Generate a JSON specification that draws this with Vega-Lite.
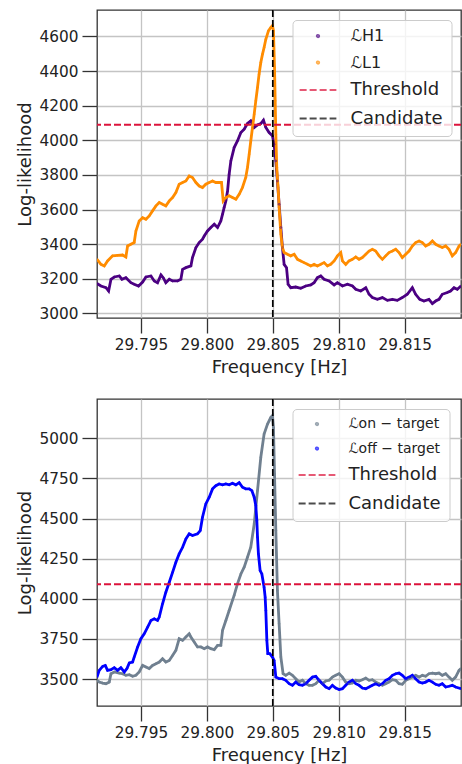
{
  "$schema": "https://vega.github.io/schema/vega-lite/v6.json",
  "padding": {"left": 15, "top": 8, "right": 0, "bottom": 0},
  "background": "white",
  "spacing": 81,
  "bounds": "flush",
  "config": {
    "view": {"stroke": "#333333", "strokeWidth": 1.3},
    "axis": {"labelFont": "DejaVu Sans", "labelFontSize": 15.3, "labelColor": "#222222", "titleFont": "DejaVu Sans", "titleFontSize": 18, "titleFontWeight": "normal", "titleColor": "#222222", "tickSize": 15, "tickColor": "#333333", "tickWidth": 1.3, "domain": false, "gridColor": "#c4c4c4", "gridWidth": 1.3, "labelPadding": 4, "labelFlush": false, "labelOverlap": false},
    "legend": {"orient": "none", "legendX": 195.5, "legendY": 10, "labelFont": "DejaVu Sans", "labelFontSize": 18, "labelColor": "#222222", "symbolSize": 6, "symbolStrokeWidth": 1.8, "symbolOffset": 9.5, "labelOffset": 24.5, "rowPadding": 10.5, "padding": 8, "fillColor": "rgba(255,255,255,0.8)", "strokeColor": "#cccccc", "cornerRadius": 4}
  },
  "datasets": {
    "top": [
      {"f":29.79167,"s":"ℒH1","v":3172},{"f":29.79197,"s":"ℒH1","v":3158},{"f":29.79235,"s":"ℒH1","v":3148},{"f":29.79255,"s":"ℒH1","v":3129},{"f":29.79273,"s":"ℒH1","v":3197},{"f":29.79298,"s":"ℒH1","v":3210},{"f":29.79336,"s":"ℒH1","v":3216},{"f":29.79356,"s":"ℒH1","v":3197},{"f":29.79386,"s":"ℒH1","v":3206},{"f":29.79424,"s":"ℒH1","v":3177},{"f":29.79449,"s":"ℒH1","v":3168},{"f":29.79482,"s":"ℒH1","v":3158},{"f":29.79513,"s":"ℒH1","v":3181},{"f":29.79538,"s":"ℒH1","v":3210},{"f":29.79576,"s":"ℒH1","v":3216},{"f":29.79601,"s":"ℒH1","v":3187},{"f":29.79626,"s":"ℒH1","v":3177},{"f":29.79652,"s":"ℒH1","v":3222},{"f":29.79669,"s":"ℒH1","v":3206},{"f":29.79689,"s":"ℒH1","v":3177},{"f":29.79715,"s":"ℒH1","v":3197},{"f":29.7974,"s":"ℒH1","v":3187},{"f":29.79778,"s":"ℒH1","v":3187},{"f":29.79803,"s":"ℒH1","v":3197},{"f":29.79816,"s":"ℒH1","v":3254},{"f":29.79841,"s":"ℒH1","v":3264},{"f":29.79879,"s":"ℒH1","v":3274},{"f":29.79891,"s":"ℒH1","v":3322},{"f":29.79917,"s":"ℒH1","v":3380},{"f":29.79942,"s":"ℒH1","v":3409},{"f":29.79967,"s":"ℒH1","v":3428},{"f":29.7998,"s":"ℒH1","v":3447},{"f":29.80005,"s":"ℒH1","v":3476},{"f":29.8003,"s":"ℒH1","v":3496},{"f":29.80056,"s":"ℒH1","v":3515},{"f":29.80081,"s":"ℒH1","v":3496},{"f":29.80106,"s":"ℒH1","v":3534},{"f":29.80119,"s":"ℒH1","v":3573},{"f":29.80131,"s":"ℒH1","v":3611},{"f":29.80144,"s":"ℒH1","v":3650},{"f":29.80157,"s":"ℒH1","v":3707},{"f":29.80169,"s":"ℒH1","v":3804},{"f":29.80182,"s":"ℒH1","v":3881},{"f":29.80207,"s":"ℒH1","v":3958},{"f":29.80232,"s":"ℒH1","v":3996},{"f":29.80258,"s":"ℒH1","v":4045},{"f":29.80283,"s":"ℒH1","v":4064},{"f":29.80308,"s":"ℒH1","v":4097},{"f":29.80333,"s":"ℒH1","v":4112},{"f":29.80359,"s":"ℒH1","v":4074},{"f":29.80384,"s":"ℒH1","v":4089},{"f":29.80409,"s":"ℒH1","v":4097},{"f":29.80429,"s":"ℒH1","v":4116},{"f":29.80447,"s":"ℒH1","v":4074},{"f":29.80472,"s":"ℒH1","v":4045},{"f":29.80497,"s":"ℒH1","v":4026},{"f":29.8051,"s":"ℒH1","v":3977},{"f":29.80523,"s":"ℒH1","v":3881},{"f":29.80535,"s":"ℒH1","v":3765},{"f":29.80548,"s":"ℒH1","v":3630},{"f":29.80561,"s":"ℒH1","v":3496},{"f":29.80573,"s":"ℒH1","v":3380},{"f":29.80586,"s":"ℒH1","v":3283},{"f":29.80604,"s":"ℒH1","v":3264},{"f":29.80616,"s":"ℒH1","v":3168},{"f":29.80636,"s":"ℒH1","v":3148},{"f":29.80674,"s":"ℒH1","v":3152},{"f":29.80712,"s":"ℒH1","v":3145},{"f":29.8075,"s":"ℒH1","v":3158},{"f":29.80788,"s":"ℒH1","v":3164},{"f":29.80813,"s":"ℒH1","v":3177},{"f":29.80838,"s":"ℒH1","v":3206},{"f":29.80864,"s":"ℒH1","v":3216},{"f":29.80889,"s":"ℒH1","v":3197},{"f":29.80927,"s":"ℒH1","v":3187},{"f":29.80965,"s":"ℒH1","v":3164},{"f":29.8099,"s":"ℒH1","v":3177},{"f":29.81028,"s":"ℒH1","v":3158},{"f":29.81066,"s":"ℒH1","v":3168},{"f":29.81104,"s":"ℒH1","v":3158},{"f":29.81129,"s":"ℒH1","v":3139},{"f":29.81167,"s":"ℒH1","v":3129},{"f":29.81205,"s":"ℒH1","v":3148},{"f":29.8123,"s":"ℒH1","v":3110},{"f":29.81255,"s":"ℒH1","v":3091},{"f":29.81293,"s":"ℒH1","v":3081},{"f":29.81331,"s":"ℒH1","v":3091},{"f":29.81369,"s":"ℒH1","v":3075},{"f":29.81407,"s":"ℒH1","v":3081},{"f":29.81444,"s":"ℒH1","v":3075},{"f":29.81482,"s":"ℒH1","v":3091},{"f":29.8152,"s":"ℒH1","v":3110},{"f":29.81558,"s":"ℒH1","v":3148},{"f":29.81583,"s":"ℒH1","v":3110},{"f":29.81614,"s":"ℒH1","v":3081},{"f":29.81646,"s":"ℒH1","v":3071},{"f":29.81684,"s":"ℒH1","v":3081},{"f":29.8171,"s":"ℒH1","v":3056},{"f":29.81735,"s":"ℒH1","v":3071},{"f":29.8176,"s":"ℒH1","v":3081},{"f":29.81785,"s":"ℒH1","v":3110},{"f":29.81823,"s":"ℒH1","v":3120},{"f":29.81848,"s":"ℒH1","v":3129},{"f":29.81874,"s":"ℒH1","v":3148},{"f":29.81899,"s":"ℒH1","v":3139},{"f":29.81927,"s":"ℒH1","v":3158},
      {"f":29.79167,"s":"ℒL1","v":3312},{"f":29.79197,"s":"ℒL1","v":3283},{"f":29.79222,"s":"ℒL1","v":3274},{"f":29.79247,"s":"ℒL1","v":3303},{"f":29.79285,"s":"ℒL1","v":3332},{"f":29.79323,"s":"ℒL1","v":3335},{"f":29.79361,"s":"ℒL1","v":3337},{"f":29.79386,"s":"ℒL1","v":3326},{"f":29.79399,"s":"ℒL1","v":3389},{"f":29.79424,"s":"ℒL1","v":3399},{"f":29.79449,"s":"ℒL1","v":3409},{"f":29.79462,"s":"ℒL1","v":3476},{"f":29.79487,"s":"ℒL1","v":3534},{"f":29.79513,"s":"ℒL1","v":3553},{"f":29.79538,"s":"ℒL1","v":3544},{"f":29.79563,"s":"ℒL1","v":3563},{"f":29.79588,"s":"ℒL1","v":3592},{"f":29.79614,"s":"ℒL1","v":3621},{"f":29.79639,"s":"ℒL1","v":3640},{"f":29.79664,"s":"ℒL1","v":3630},{"f":29.79689,"s":"ℒL1","v":3621},{"f":29.79715,"s":"ℒL1","v":3650},{"f":29.7974,"s":"ℒL1","v":3669},{"f":29.79765,"s":"ℒL1","v":3698},{"f":29.7979,"s":"ℒL1","v":3746},{"f":29.79816,"s":"ℒL1","v":3756},{"f":29.79841,"s":"ℒL1","v":3765},{"f":29.79866,"s":"ℒL1","v":3794},{"f":29.79891,"s":"ℒL1","v":3785},{"f":29.79917,"s":"ℒL1","v":3756},{"f":29.79942,"s":"ℒL1","v":3736},{"f":29.79967,"s":"ℒL1","v":3727},{"f":29.79992,"s":"ℒL1","v":3746},{"f":29.80018,"s":"ℒL1","v":3756},{"f":29.80043,"s":"ℒL1","v":3765},{"f":29.80068,"s":"ℒL1","v":3756},{"f":29.80093,"s":"ℒL1","v":3756},{"f":29.80111,"s":"ℒL1","v":3756},{"f":29.80124,"s":"ℒL1","v":3650},{"f":29.80144,"s":"ℒL1","v":3669},{"f":29.80169,"s":"ℒL1","v":3679},{"f":29.80194,"s":"ℒL1","v":3669},{"f":29.8022,"s":"ℒL1","v":3659},{"f":29.80245,"s":"ℒL1","v":3688},{"f":29.8027,"s":"ℒL1","v":3727},{"f":29.80295,"s":"ℒL1","v":3785},{"f":29.80308,"s":"ℒL1","v":3843},{"f":29.80321,"s":"ℒL1","v":3920},{"f":29.80333,"s":"ℒL1","v":3996},{"f":29.80346,"s":"ℒL1","v":4074},{"f":29.80359,"s":"ℒL1","v":4151},{"f":29.80371,"s":"ℒL1","v":4228},{"f":29.80384,"s":"ℒL1","v":4305},{"f":29.80396,"s":"ℒL1","v":4382},{"f":29.80409,"s":"ℒL1","v":4450},{"f":29.80422,"s":"ℒL1","v":4498},{"f":29.80434,"s":"ℒL1","v":4536},{"f":29.80447,"s":"ℒL1","v":4584},{"f":29.80467,"s":"ℒL1","v":4633},{"f":29.80485,"s":"ℒL1","v":4652},{"f":29.80497,"s":"ℒL1","v":4662},{"f":29.80505,"s":"ℒL1","v":4633},{"f":29.80513,"s":"ℒL1","v":4421},{"f":29.80518,"s":"ℒL1","v":4228},{"f":29.80523,"s":"ℒL1","v":4035},{"f":29.8053,"s":"ℒL1","v":3843},{"f":29.8054,"s":"ℒL1","v":3727},{"f":29.80548,"s":"ℒL1","v":3611},{"f":29.80561,"s":"ℒL1","v":3457},{"f":29.80573,"s":"ℒL1","v":3380},{"f":29.80586,"s":"ℒL1","v":3351},{"f":29.80611,"s":"ℒL1","v":3341},{"f":29.80636,"s":"ℒL1","v":3332},{"f":29.80662,"s":"ℒL1","v":3341},{"f":29.80687,"s":"ℒL1","v":3312},{"f":29.80712,"s":"ℒL1","v":3303},{"f":29.80737,"s":"ℒL1","v":3293},{"f":29.80763,"s":"ℒL1","v":3283},{"f":29.80788,"s":"ℒL1","v":3274},{"f":29.80813,"s":"ℒL1","v":3283},{"f":29.80838,"s":"ℒL1","v":3274},{"f":29.80864,"s":"ℒL1","v":3283},{"f":29.80889,"s":"ℒL1","v":3293},{"f":29.80914,"s":"ℒL1","v":3274},{"f":29.80939,"s":"ℒL1","v":3283},{"f":29.80965,"s":"ℒL1","v":3303},{"f":29.8099,"s":"ℒL1","v":3332},{"f":29.81015,"s":"ℒL1","v":3351},{"f":29.81028,"s":"ℒL1","v":3303},{"f":29.81053,"s":"ℒL1","v":3283},{"f":29.81078,"s":"ℒL1","v":3303},{"f":29.81104,"s":"ℒL1","v":3312},{"f":29.81129,"s":"ℒL1","v":3326},{"f":29.81154,"s":"ℒL1","v":3312},{"f":29.81179,"s":"ℒL1","v":3322},{"f":29.81205,"s":"ℒL1","v":3341},{"f":29.8123,"s":"ℒL1","v":3360},{"f":29.81255,"s":"ℒL1","v":3370},{"f":29.8128,"s":"ℒL1","v":3360},{"f":29.81306,"s":"ℒL1","v":3332},{"f":29.81331,"s":"ℒL1","v":3312},{"f":29.81356,"s":"ℒL1","v":3332},{"f":29.81381,"s":"ℒL1","v":3351},{"f":29.81407,"s":"ℒL1","v":3360},{"f":29.81432,"s":"ℒL1","v":3370},{"f":29.81457,"s":"ℒL1","v":3351},{"f":29.81482,"s":"ℒL1","v":3322},{"f":29.81508,"s":"ℒL1","v":3341},{"f":29.81533,"s":"ℒL1","v":3360},{"f":29.81558,"s":"ℒL1","v":3389},{"f":29.81583,"s":"ℒL1","v":3409},{"f":29.81609,"s":"ℒL1","v":3418},{"f":29.81634,"s":"ℒL1","v":3409},{"f":29.81659,"s":"ℒL1","v":3389},{"f":29.81684,"s":"ℒL1","v":3399},{"f":29.8171,"s":"ℒL1","v":3418},{"f":29.81735,"s":"ℒL1","v":3399},{"f":29.8176,"s":"ℒL1","v":3389},{"f":29.81785,"s":"ℒL1","v":3380},{"f":29.81811,"s":"ℒL1","v":3389},{"f":29.81836,"s":"ℒL1","v":3370},{"f":29.81861,"s":"ℒL1","v":3332},{"f":29.81886,"s":"ℒL1","v":3351},{"f":29.81912,"s":"ℒL1","v":3389},{"f":29.81927,"s":"ℒL1","v":3399}
    ],
    "bottom": [
      {"f":29.79167,"s":"ℒon − target","v":3492},{"f":29.79184,"s":"ℒon − target","v":3481},{"f":29.7921,"s":"ℒon − target","v":3475},{"f":29.79235,"s":"ℒon − target","v":3471},{"f":29.7926,"s":"ℒon − target","v":3481},{"f":29.79273,"s":"ℒon − target","v":3533},{"f":29.79298,"s":"ℒon − target","v":3544},{"f":29.79336,"s":"ℒon − target","v":3537},{"f":29.79361,"s":"ℒon − target","v":3533},{"f":29.79386,"s":"ℒon − target","v":3523},{"f":29.79412,"s":"ℒon − target","v":3527},{"f":29.79437,"s":"ℒon − target","v":3517},{"f":29.79462,"s":"ℒon − target","v":3523},{"f":29.79487,"s":"ℒon − target","v":3544},{"f":29.79513,"s":"ℒon − target","v":3585},{"f":29.79538,"s":"ℒon − target","v":3575},{"f":29.79563,"s":"ℒon − target","v":3565},{"f":29.79588,"s":"ℒon − target","v":3585},{"f":29.79614,"s":"ℒon − target","v":3596},{"f":29.79639,"s":"ℒon − target","v":3606},{"f":29.79664,"s":"ℒon − target","v":3627},{"f":29.79689,"s":"ℒon − target","v":3606},{"f":29.79715,"s":"ℒon − target","v":3616},{"f":29.7974,"s":"ℒon − target","v":3647},{"f":29.79765,"s":"ℒon − target","v":3679},{"f":29.7979,"s":"ℒon − target","v":3751},{"f":29.79816,"s":"ℒon − target","v":3741},{"f":29.79841,"s":"ℒon − target","v":3762},{"f":29.79866,"s":"ℒon − target","v":3782},{"f":29.79879,"s":"ℒon − target","v":3762},{"f":29.79904,"s":"ℒon − target","v":3731},{"f":29.79929,"s":"ℒon − target","v":3700},{"f":29.79955,"s":"ℒon − target","v":3700},{"f":29.7998,"s":"ℒon − target","v":3689},{"f":29.80005,"s":"ℒon − target","v":3700},{"f":29.8003,"s":"ℒon − target","v":3689},{"f":29.80056,"s":"ℒon − target","v":3683},{"f":29.80081,"s":"ℒon − target","v":3710},{"f":29.80106,"s":"ℒon − target","v":3710},{"f":29.80119,"s":"ℒon − target","v":3803},{"f":29.80144,"s":"ℒon − target","v":3865},{"f":29.80169,"s":"ℒon − target","v":3927},{"f":29.80194,"s":"ℒon − target","v":3990},{"f":29.80207,"s":"ℒon − target","v":4021},{"f":29.80232,"s":"ℒon − target","v":4093},{"f":29.80258,"s":"ℒon − target","v":4155},{"f":29.80283,"s":"ℒon − target","v":4197},{"f":29.80308,"s":"ℒon − target","v":4259},{"f":29.80333,"s":"ℒon − target","v":4321},{"f":29.80359,"s":"ℒon − target","v":4466},{"f":29.80384,"s":"ℒon − target","v":4674},{"f":29.80409,"s":"ℒon − target","v":4882},{"f":29.80434,"s":"ℒon − target","v":5027},{"f":29.8046,"s":"ℒon − target","v":5089},{"f":29.80485,"s":"ℒon − target","v":5131},{"f":29.80497,"s":"ℒon − target","v":5141},{"f":29.80505,"s":"ℒon − target","v":5068},{"f":29.80513,"s":"ℒon − target","v":4778},{"f":29.80523,"s":"ℒon − target","v":4425},{"f":29.80535,"s":"ℒon − target","v":4052},{"f":29.80548,"s":"ℒon − target","v":3844},{"f":29.80561,"s":"ℒon − target","v":3637},{"f":29.80578,"s":"ℒon − target","v":3533},{"f":29.80598,"s":"ℒon − target","v":3523},{"f":29.80624,"s":"ℒon − target","v":3537},{"f":29.80649,"s":"ℒon − target","v":3523},{"f":29.80674,"s":"ℒon − target","v":3502},{"f":29.80699,"s":"ℒon − target","v":3481},{"f":29.80725,"s":"ℒon − target","v":3492},{"f":29.8075,"s":"ℒon − target","v":3471},{"f":29.80775,"s":"ℒon − target","v":3461},{"f":29.80801,"s":"ℒon − target","v":3461},{"f":29.80826,"s":"ℒon − target","v":3471},{"f":29.80851,"s":"ℒon − target","v":3492},{"f":29.80876,"s":"ℒon − target","v":3471},{"f":29.80902,"s":"ℒon − target","v":3488},{"f":29.80927,"s":"ℒon − target","v":3492},{"f":29.80952,"s":"ℒon − target","v":3512},{"f":29.80977,"s":"ℒon − target","v":3523},{"f":29.81003,"s":"ℒon − target","v":3533},{"f":29.81028,"s":"ℒon − target","v":3512},{"f":29.81053,"s":"ℒon − target","v":3481},{"f":29.81078,"s":"ℒon − target","v":3471},{"f":29.81104,"s":"ℒon − target","v":3475},{"f":29.81129,"s":"ℒon − target","v":3492},{"f":29.81154,"s":"ℒon − target","v":3488},{"f":29.81179,"s":"ℒon − target","v":3496},{"f":29.81205,"s":"ℒon − target","v":3506},{"f":29.8123,"s":"ℒon − target","v":3492},{"f":29.81255,"s":"ℒon − target","v":3496},{"f":29.8128,"s":"ℒon − target","v":3481},{"f":29.81306,"s":"ℒon − target","v":3471},{"f":29.81331,"s":"ℒon − target","v":3461},{"f":29.81356,"s":"ℒon − target","v":3471},{"f":29.81381,"s":"ℒon − target","v":3481},{"f":29.81407,"s":"ℒon − target","v":3496},{"f":29.81432,"s":"ℒon − target","v":3492},{"f":29.81457,"s":"ℒon − target","v":3471},{"f":29.81482,"s":"ℒon − target","v":3467},{"f":29.81508,"s":"ℒon − target","v":3492},{"f":29.81533,"s":"ℒon − target","v":3502},{"f":29.81558,"s":"ℒon − target","v":3512},{"f":29.81583,"s":"ℒon − target","v":3523},{"f":29.81609,"s":"ℒon − target","v":3512},{"f":29.81634,"s":"ℒon − target","v":3523},{"f":29.81659,"s":"ℒon − target","v":3517},{"f":29.81684,"s":"ℒon − target","v":3533},{"f":29.8171,"s":"ℒon − target","v":3537},{"f":29.81735,"s":"ℒon − target","v":3533},{"f":29.8176,"s":"ℒon − target","v":3537},{"f":29.81785,"s":"ℒon − target","v":3523},{"f":29.81811,"s":"ℒon − target","v":3533},{"f":29.81836,"s":"ℒon − target","v":3512},{"f":29.81861,"s":"ℒon − target","v":3492},{"f":29.81886,"s":"ℒon − target","v":3512},{"f":29.81912,"s":"ℒon − target","v":3554},{"f":29.81927,"s":"ℒon − target","v":3565},
      {"f":29.79167,"s":"ℒoff − target","v":3512},{"f":29.79184,"s":"ℒoff − target","v":3554},{"f":29.7921,"s":"ℒoff − target","v":3579},{"f":29.7923,"s":"ℒoff − target","v":3585},{"f":29.79247,"s":"ℒoff − target","v":3554},{"f":29.79273,"s":"ℒoff − target","v":3558},{"f":29.79298,"s":"ℒoff − target","v":3571},{"f":29.79323,"s":"ℒoff − target","v":3554},{"f":29.79348,"s":"ℒoff − target","v":3571},{"f":29.79374,"s":"ℒoff − target","v":3544},{"f":29.79394,"s":"ℒoff − target","v":3565},{"f":29.79412,"s":"ℒoff − target","v":3600},{"f":29.79437,"s":"ℒoff − target","v":3606},{"f":29.79449,"s":"ℒoff − target","v":3637},{"f":29.79475,"s":"ℒoff − target","v":3700},{"f":29.795,"s":"ℒoff − target","v":3751},{"f":29.79525,"s":"ℒoff − target","v":3782},{"f":29.79551,"s":"ℒoff − target","v":3824},{"f":29.79576,"s":"ℒoff − target","v":3865},{"f":29.79601,"s":"ℒoff − target","v":3875},{"f":29.79626,"s":"ℒoff − target","v":3865},{"f":29.79639,"s":"ℒoff − target","v":3886},{"f":29.79664,"s":"ℒoff − target","v":3969},{"f":29.79689,"s":"ℒoff − target","v":4041},{"f":29.79715,"s":"ℒoff − target","v":4103},{"f":29.7974,"s":"ℒoff − target","v":4165},{"f":29.79765,"s":"ℒoff − target","v":4228},{"f":29.7979,"s":"ℒoff − target","v":4280},{"f":29.79816,"s":"ℒoff − target","v":4321},{"f":29.79841,"s":"ℒoff − target","v":4373},{"f":29.79866,"s":"ℒoff − target","v":4405},{"f":29.79891,"s":"ℒoff − target","v":4394},{"f":29.79929,"s":"ℒoff − target","v":4405},{"f":29.7995,"s":"ℒoff − target","v":4425},{"f":29.79967,"s":"ℒoff − target","v":4508},{"f":29.79992,"s":"ℒoff − target","v":4591},{"f":29.80018,"s":"ℒoff − target","v":4633},{"f":29.80043,"s":"ℒoff − target","v":4685},{"f":29.80068,"s":"ℒoff − target","v":4705},{"f":29.80093,"s":"ℒoff − target","v":4716},{"f":29.80119,"s":"ℒoff − target","v":4710},{"f":29.80144,"s":"ℒoff − target","v":4716},{"f":29.80169,"s":"ℒoff − target","v":4710},{"f":29.80194,"s":"ℒoff − target","v":4720},{"f":29.8022,"s":"ℒoff − target","v":4710},{"f":29.80245,"s":"ℒoff − target","v":4724},{"f":29.8027,"s":"ℒoff − target","v":4695},{"f":29.80295,"s":"ℒoff − target","v":4685},{"f":29.80321,"s":"ℒoff − target","v":4685},{"f":29.80341,"s":"ℒoff − target","v":4674},{"f":29.80359,"s":"ℒoff − target","v":4633},{"f":29.80371,"s":"ℒoff − target","v":4581},{"f":29.80379,"s":"ℒoff − target","v":4488},{"f":29.80384,"s":"ℒoff − target","v":4384},{"f":29.80391,"s":"ℒoff − target","v":4280},{"f":29.80404,"s":"ℒoff − target","v":4176},{"f":29.80417,"s":"ℒoff − target","v":4155},{"f":29.80434,"s":"ℒoff − target","v":4072},{"f":29.80442,"s":"ℒoff − target","v":4010},{"f":29.80447,"s":"ℒoff − target","v":3927},{"f":29.80455,"s":"ℒoff − target","v":3740},{"f":29.80462,"s":"ℒoff − target","v":3658},{"f":29.80477,"s":"ℒoff − target","v":3658},{"f":29.80497,"s":"ℒoff − target","v":3637},{"f":29.8051,"s":"ℒoff − target","v":3616},{"f":29.80523,"s":"ℒoff − target","v":3512},{"f":29.80548,"s":"ℒoff − target","v":3502},{"f":29.80573,"s":"ℒoff − target","v":3502},{"f":29.80598,"s":"ℒoff − target","v":3492},{"f":29.80624,"s":"ℒoff − target","v":3471},{"f":29.80649,"s":"ℒoff − target","v":3461},{"f":29.80674,"s":"ℒoff − target","v":3481},{"f":29.80699,"s":"ℒoff − target","v":3465},{"f":29.80725,"s":"ℒoff − target","v":3461},{"f":29.8075,"s":"ℒoff − target","v":3471},{"f":29.80775,"s":"ℒoff − target","v":3492},{"f":29.80801,"s":"ℒoff − target","v":3512},{"f":29.80826,"s":"ℒoff − target","v":3517},{"f":29.80851,"s":"ℒoff − target","v":3492},{"f":29.80876,"s":"ℒoff − target","v":3471},{"f":29.80902,"s":"ℒoff − target","v":3450},{"f":29.80927,"s":"ℒoff − target","v":3440},{"f":29.80952,"s":"ℒoff − target","v":3461},{"f":29.80977,"s":"ℒoff − target","v":3444},{"f":29.81003,"s":"ℒoff − target","v":3434},{"f":29.81028,"s":"ℒoff − target","v":3440},{"f":29.81053,"s":"ℒoff − target","v":3461},{"f":29.81078,"s":"ℒoff − target","v":3481},{"f":29.81104,"s":"ℒoff − target","v":3492},{"f":29.81129,"s":"ℒoff − target","v":3471},{"f":29.81154,"s":"ℒoff − target","v":3461},{"f":29.81179,"s":"ℒoff − target","v":3444},{"f":29.81205,"s":"ℒoff − target","v":3440},{"f":29.8123,"s":"ℒoff − target","v":3450},{"f":29.81255,"s":"ℒoff − target","v":3461},{"f":29.8128,"s":"ℒoff − target","v":3471},{"f":29.81306,"s":"ℒoff − target","v":3461},{"f":29.81331,"s":"ℒoff − target","v":3471},{"f":29.81356,"s":"ℒoff − target","v":3492},{"f":29.81381,"s":"ℒoff − target","v":3502},{"f":29.81407,"s":"ℒoff − target","v":3523},{"f":29.81432,"s":"ℒoff − target","v":3533},{"f":29.81457,"s":"ℒoff − target","v":3537},{"f":29.81482,"s":"ℒoff − target","v":3523},{"f":29.81508,"s":"ℒoff − target","v":3502},{"f":29.81533,"s":"ℒoff − target","v":3512},{"f":29.81558,"s":"ℒoff − target","v":3523},{"f":29.81583,"s":"ℒoff − target","v":3502},{"f":29.81609,"s":"ℒoff − target","v":3481},{"f":29.81634,"s":"ℒoff − target","v":3475},{"f":29.81659,"s":"ℒoff − target","v":3481},{"f":29.81684,"s":"ℒoff − target","v":3492},{"f":29.8171,"s":"ℒoff − target","v":3481},{"f":29.81735,"s":"ℒoff − target","v":3467},{"f":29.8176,"s":"ℒoff − target","v":3461},{"f":29.81785,"s":"ℒoff − target","v":3471},{"f":29.81811,"s":"ℒoff − target","v":3450},{"f":29.81836,"s":"ℒoff − target","v":3455},{"f":29.81861,"s":"ℒoff − target","v":3461},{"f":29.81886,"s":"ℒoff − target","v":3450},{"f":29.81927,"s":"ℒoff − target","v":3440}
    ]
  },
  "resolve": {"scale": {"color": "independent", "shape": "independent", "strokeDash": "independent"}, "legend": {"color": "independent", "shape": "independent", "strokeDash": "independent"}},
  "vconcat": [
    {
      "width": 364, "height": 308,
      "layer": [
        {
          "data": {"name": "top"},
          "mark": {"type": "line", "strokeWidth": 2.8, "clip": true},
          "encoding": {
            "x": {"field": "f", "type": "quantitative", "scale": {"domain": [29.79167, 29.81927], "nice": false, "zero": false}, "axis": {"values": [29.795, 29.8, 29.805, 29.81, 29.815], "tickCount": 20, "format": ".3f", "title": "Frequency [Hz]", "titlePadding": 6, "labelOverlap": false}},
            "y": {"field": "v", "type": "quantitative", "scale": {"domain": [2973, 4753], "nice": false, "zero": false}, "axis": {"values": [3000, 3200, 3400, 3600, 3800, 4000, 4200, 4400, 4600], "tickCount": 20, "format": "d", "title": "Log-likelihood", "titlePadding": 5, "labelOverlap": false}},
            "color": {"field": "s", "type": "nominal", "sort": null, "scale": {"domain": ["ℒH1", "ℒL1", "Threshold", "Candidate"], "range": ["#4b0082", "#ff8c00", "#dc143c", "#000000"]}, "legend": {"title": null, "labelFontSize": {"expr": "(datum.label == 'Threshold' || datum.label == 'Candidate') ? 18 : 16"}}}
          }
        },
        {
          "data": {"name": "top"},
          "mark": {"type": "point", "filled": false, "size": 3, "strokeWidth": 1, "clip": true},
          "encoding": {
            "x": {"field": "f", "type": "quantitative"},
            "y": {"field": "v", "type": "quantitative"},
            "color": {"field": "s", "type": "nominal", "legend": {"title": null}},
            "shape": {"field": "s", "type": "nominal", "scale": {"domain": ["ℒH1", "ℒL1", "Threshold", "Candidate"], "range": ["circle", "circle", "M-15,0H15", "M-15,0H15"]}, "legend": {"title": null}}
          }
        },
        {
          "data": {"values": [{"s": "Threshold", "v": 4090}]},
          "mark": {"type": "rule", "strokeWidth": 2},
          "encoding": {
            "y": {"field": "v", "type": "quantitative"},
            "color": {"field": "s", "type": "nominal", "legend": {"title": null}},
            "strokeDash": {"field": "s", "type": "nominal", "scale": {"domain": ["ℒH1", "ℒL1", "Threshold", "Candidate"], "range": [[1, 0], [1, 0], [7, 3], [7, 3]]}, "legend": {"title": null}}
          }
        },
        {
          "data": {"values": [{"s": "Candidate", "f": 29.805}]},
          "mark": {"type": "rule", "strokeWidth": 1.7},
          "encoding": {
            "x": {"field": "f", "type": "quantitative"},
            "color": {"field": "s", "type": "nominal", "legend": {"title": null}},
            "strokeDash": {"field": "s", "type": "nominal", "legend": {"title": null}}
          }
        }
      ]
    },
    {
      "width": 364, "height": 307,
      "layer": [
        {
          "data": {"name": "bottom"},
          "mark": {"type": "line", "strokeWidth": 2.8, "clip": true},
          "encoding": {
            "x": {"field": "f", "type": "quantitative", "scale": {"domain": [29.79167, 29.81927], "nice": false, "zero": false}, "axis": {"values": [29.795, 29.8, 29.805, 29.81, 29.815], "tickCount": 20, "format": ".3f", "title": "Frequency [Hz]", "titlePadding": 6, "labelOverlap": false}},
            "y": {"field": "v", "type": "quantitative", "scale": {"domain": [3332, 5245], "nice": false, "zero": false}, "axis": {"values": [3500, 3750, 4000, 4250, 4500, 4750, 5000], "tickCount": 20, "format": "d", "title": "Log-likelihood", "titlePadding": 5, "labelOverlap": false}},
            "color": {"field": "s", "type": "nominal", "sort": null, "scale": {"domain": ["ℒon − target", "ℒoff − target", "Threshold", "Candidate"], "range": ["#708090", "#0000ff", "#dc143c", "#000000"]}, "legend": {"title": null, "labelFontSize": {"expr": "(datum.label == 'Threshold' || datum.label == 'Candidate') ? 18 : 14"}}}
          }
        },
        {
          "data": {"name": "bottom"},
          "mark": {"type": "point", "filled": false, "size": 3, "strokeWidth": 1, "clip": true},
          "encoding": {
            "x": {"field": "f", "type": "quantitative"},
            "y": {"field": "v", "type": "quantitative"},
            "color": {"field": "s", "type": "nominal", "legend": {"title": null}},
            "shape": {"field": "s", "type": "nominal", "scale": {"domain": ["ℒon − target", "ℒoff − target", "Threshold", "Candidate"], "range": ["circle", "circle", "M-15,0H15", "M-15,0H15"]}, "legend": {"title": null}}
          }
        },
        {
          "data": {"values": [{"s": "Threshold", "v": 4090}]},
          "mark": {"type": "rule", "strokeWidth": 2},
          "encoding": {
            "y": {"field": "v", "type": "quantitative"},
            "color": {"field": "s", "type": "nominal", "legend": {"title": null}},
            "strokeDash": {"field": "s", "type": "nominal", "scale": {"domain": ["ℒon − target", "ℒoff − target", "Threshold", "Candidate"], "range": [[1, 0], [1, 0], [7, 3], [7, 3]]}, "legend": {"title": null}}
          }
        },
        {
          "data": {"values": [{"s": "Candidate", "f": 29.805}]},
          "mark": {"type": "rule", "strokeWidth": 1.7},
          "encoding": {
            "x": {"field": "f", "type": "quantitative"},
            "color": {"field": "s", "type": "nominal", "legend": {"title": null}},
            "strokeDash": {"field": "s", "type": "nominal", "legend": {"title": null}}
          }
        }
      ]
    }
  ]
}
